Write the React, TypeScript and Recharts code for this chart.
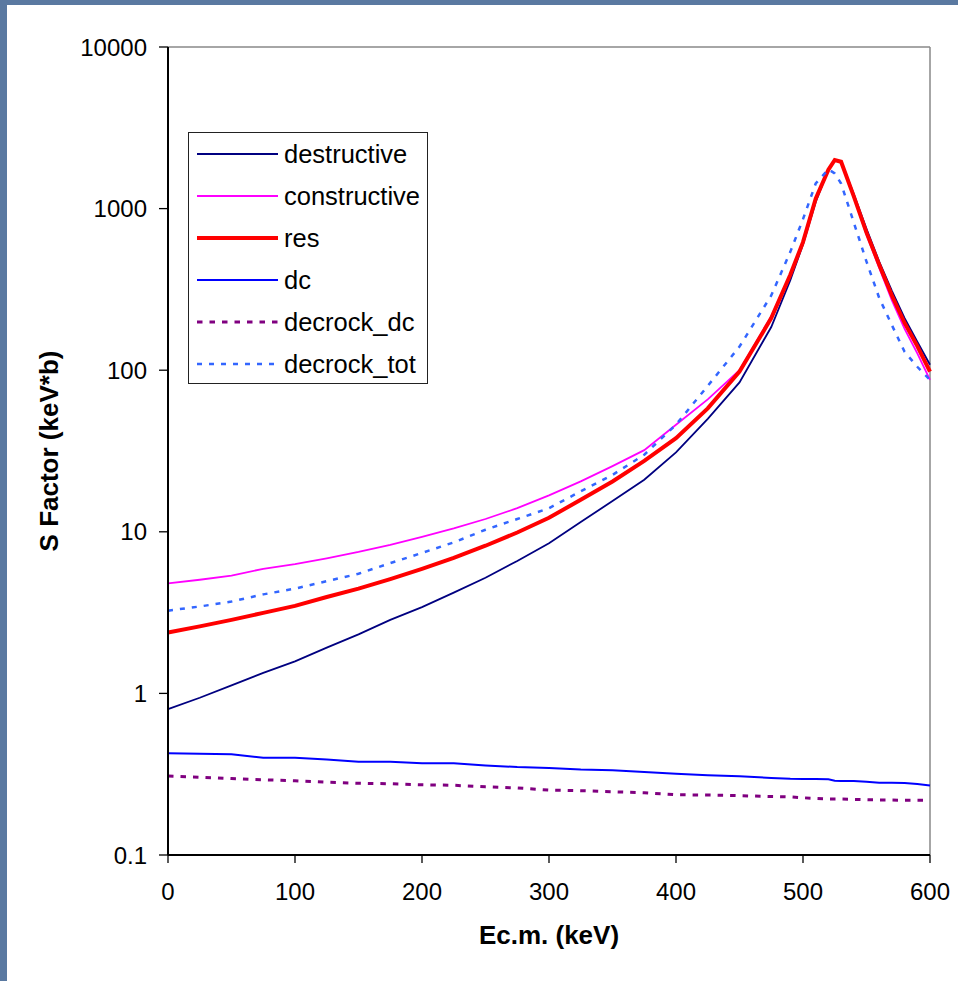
import React from 'react';
import { LineChart, Line, XAxis, YAxis, Legend, ReferenceLine } from 'recharts';

const energy = [0, 25, 50, 75, 100, 125, 150, 175, 200, 225, 250, 275, 300, 325, 350, 375, 400, 425, 450, 475, 490, 500, 510, 520, 525, 530, 540, 550, 560, 570, 580, 590, 600];

const destructive = [0.80, 0.94, 1.12, 1.34, 1.58, 1.92, 2.32, 2.85, 3.42, 4.2, 5.2, 6.6, 8.5, 11.5, 15.5, 21, 31, 50, 84, 185, 360, 600, 1100, 1740, 2000, 1960, 1230, 750, 470, 310, 210, 150, 108];
const constructive = [4.8, 5.05, 5.36, 5.9, 6.3, 6.85, 7.5, 8.3, 9.3, 10.5, 12.0, 14.0, 16.8, 20.5, 25.5, 32, 46, 66, 100, 215, 390, 620, 1150, 1740, 2000, 1950, 1180, 690, 430, 270, 180, 127, 87];
const res = [2.38, 2.6, 2.85, 3.15, 3.48, 3.95, 4.45, 5.1, 5.9, 6.9, 8.2, 9.9, 12.2, 15.8, 20.5, 27.5, 38, 58, 98, 210, 390, 620, 1150, 1740, 2000, 1950, 1190, 710, 450, 290, 196, 141, 98];
const dc = [0.426, 0.423, 0.42, 0.40, 0.40, 0.39, 0.378, 0.378, 0.37, 0.369, 0.358, 0.35, 0.346, 0.338, 0.334, 0.326, 0.318, 0.311, 0.307, 0.300, 0.296, 0.295, 0.295, 0.294, 0.288, 0.287, 0.287, 0.284, 0.280, 0.280, 0.279, 0.275, 0.269];
const decrockDc = [0.308, 0.303, 0.297, 0.292, 0.288, 0.282, 0.278, 0.276, 0.272, 0.270, 0.264, 0.260, 0.252, 0.250, 0.246, 0.243, 0.236, 0.235, 0.233, 0.230, 0.229, 0.226, 0.224, 0.222, 0.222, 0.222, 0.221, 0.220, 0.219, 0.219, 0.218, 0.218, 0.218];
const decrockTot = [3.25, 3.45, 3.7, 4.1, 4.45, 4.95, 5.5, 6.4, 7.4, 8.6, 10.3, 12.0, 14.0, 17.8, 22.5, 30, 46, 80, 140, 290, 540, 860, 1430, 1750, 1650, 1430, 820, 470, 280, 190, 130, 105, 87];

const xTicks = [0, 100, 200, 300, 400, 500, 600];
const yTicks = [0.1, 1, 10, 100, 1000, 10000];

const seriesNames = ['destructive', 'constructive', 'res', 'dc', 'decrock_dc', 'decrock_tot'];
const seriesValues = [destructive, constructive, res, dc, decrockDc, decrockTot];

const seriesStyle: Record<string, { color: string; width: number; dash?: string }> = {
  destructive: { color: '#000080', width: 1.8 },
  constructive: { color: '#FF00FF', width: 1.8 },
  res: { color: '#FF0000', width: 4 },
  dc: { color: '#0000FF', width: 2 },
  decrock_dc: { color: '#800080', width: 3, dash: '5.5 7' },
  decrock_tot: { color: '#3366FF', width: 2.5, dash: '5 7' },
};

const data = energy.map((e, i) => {
  const row: Record<string, number> = { E: e };
  seriesNames.forEach((n, k) => {
    row[n] = seriesValues[k][i];
  });
  return row;
});

const FONT = '"Liberation Sans", Arial, sans-serif';

const LegendBox = () => (
  <div
    style={{
      width: 240,
      height: 252,
      border: '1px solid #222',
      boxSizing: 'border-box',
      background: '#fff',
      fontFamily: FONT,
      fontSize: 25.5,
      color: '#000',
    }}
  >
    {seriesNames.map((n) => {
      const s = seriesStyle[n];
      return (
        <div key={n} style={{ height: 42, display: 'flex', alignItems: 'center', position: 'relative' }}>
          <svg width={90} height={42} style={{ flex: 'none' }}>
            <line x1={8} x2={89} y1={21} y2={21} stroke={s.color} strokeWidth={s.width} strokeDasharray={s.dash} />
          </svg>
          <span style={{ marginLeft: 5, lineHeight: '42px' }}>{n}</span>
        </div>
      );
    })}
  </div>
);

export default function App() {
  return (
    <div style={{ position: 'absolute', left: 0, top: 0, width: 958, height: 981, background: '#5a79a1', overflow: 'hidden' }}>
      <div style={{ position: 'absolute', left: 7, top: 5, width: 951, height: 976, background: '#ffffff' }} />
      <div style={{ position: 'absolute', left: 0, top: 0 }}>
        <LineChart
          width={958}
          height={981}
          data={data}
          margin={{ top: 47, right: 28, left: 18, bottom: 36 }}
        >
          <XAxis
            dataKey="E"
            type="number"
            domain={[0, 600]}
            ticks={xTicks}
            height={90}
            tickSize={8}
            tickMargin={20}
            axisLine={{ stroke: '#000', strokeWidth: 2 }}
            tickLine={{ stroke: '#000', strokeWidth: 1.3 }}
            tick={{ fill: '#000', fontSize: 24, fontFamily: FONT }}
            label={{ value: 'Ec.m. (keV)', position: 'insideBottom', offset: 1, fill: '#000', fontSize: 26, fontWeight: 'bold', fontFamily: FONT }}
          />
          <YAxis
            scale="log"
            domain={[0.1, 10000]}
            ticks={yTicks}
            allowDataOverflow
            width={150}
            tickSize={9}
            tickMargin={12}
            tickFormatter={(v: number) => String(v)}
            axisLine={{ stroke: '#000', strokeWidth: 2 }}
            tickLine={{ stroke: '#000', strokeWidth: 1.3 }}
            tick={{ fill: '#000', fontSize: 24, fontFamily: FONT }}
            label={{ value: 'S Factor (keV*b)', angle: -90, position: 'insideLeft', offset: 31, fill: '#000', fontSize: 26, fontWeight: 'bold', fontFamily: FONT, style: { textAnchor: 'middle' } }}
          />
          <ReferenceLine y={10000} stroke="#888" strokeWidth={1.5} />
          <ReferenceLine x={600} stroke="#888" strokeWidth={1.5} />
          {seriesNames.map((n) => {
            const s = seriesStyle[n];
            return (
              <Line
                key={n}
                dataKey={n}
                name={n}
                type="linear"
                stroke={s.color}
                strokeWidth={s.width}
                strokeDasharray={s.dash}
                dot={false}
                activeDot={false}
                isAnimationActive={false}
              />
            );
          })}
          <Legend
            layout="vertical"
            align="center"
            verticalAlign="middle"
            content={() => <LegendBox />}
            wrapperStyle={{ left: 188, top: 132, width: 240, height: 252 }}
          />
        </LineChart>
      </div>
    </div>
  );
}
